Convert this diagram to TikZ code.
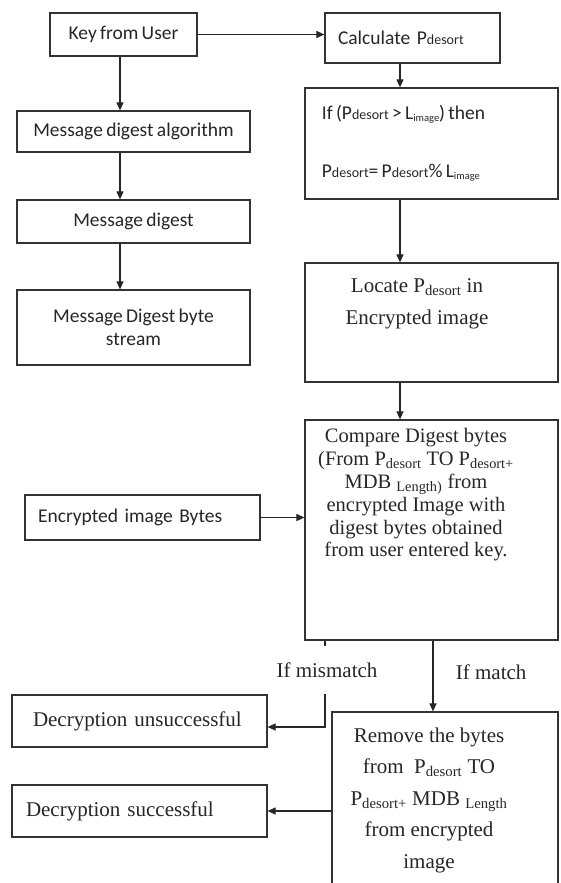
\documentclass[tikz,border=0pt]{standalone}
\usepackage{fontspec}
\setmainfont{Liberation Serif}
\newfontfamily\calibri[WordSpace=0.75]{Carlito}
\usetikzlibrary{arrows.meta,positioning,calc}

\newcommand{\subtxt}[1]{\textsubscript{#1}}
\newcommand{\smtxt}[1]{{\fontsize{14}{14}\selectfont #1}}
\newcommand{\tinysub}[1]{\raisebox{-2pt}{\fontsize{10.5}{10.5}\selectfont #1}}

\begin{document}
\begin{tikzpicture}[
    x=1pt, y=-1pt,
    box/.style={rectangle, draw=black!80, line width=1.2pt, inner sep=0pt, text=black!85},
    sans/.style={font=\calibri\fontsize{19.5}{23}\selectfont, text=black!85},
    serif/.style={font=\fontsize{21}{24}\selectfont, text=black!85},
    >={Triangle[length=8pt,width=7pt]}, line width=1.1pt, draw=black!85
]
    \useasboundingbox (0,0) rectangle (560,883);
    \clip (0,0) rectangle (560,883);

    % left column
    \node[box, sans, minimum width=147, minimum height=43] (key) at (123.5,34.5) {Key from User};
    \node[box, sans, minimum width=233, minimum height=41] (mda) at (133.5,131.5) {Message digest algorithm};
    \node[box, sans, minimum width=233, minimum height=43] (md) at (133.5,221.5) {Message digest};
    \node[box, sans, minimum width=233, minimum height=75, align=center] (mdbs) at (133.5,327.5) {Message Digest byte\\stream};
    \node[box, sans, minimum height=45, text width=209, inner xsep=13, align=left] (eib) at (142.5,517.5) {Encrypted image Bytes};
    \node[box, serif, minimum height=52, text width=213, inner xsep=21, align=left] (unsucc) at (139.5,721) {Decryption unsuccessful};
    \node[box, serif, minimum height=52, text width=227, inner xsep=14, align=left] (succ) at (139.5,811) {Decryption successful};

    % right column
    \node[box, sans, minimum height=50, text width=149, inner xsep=13, align=left] (calc) at (412.5,38) {Calculate P\smtxt{desort}};
    \node[box, minimum width=253, minimum height=111] (ifbox) at (431.5,143.5) {};
    \node[box, minimum width=253, minimum height=119] (locate) at (431.5,322.5) {};
    \node[box, minimum width=253, minimum height=220] (compare) at (431.5,530) {};
    \node[box, minimum width=226, minimum height=188] (remove) at (445,806) {};

    \node[sans, anchor=west, align=left] (iftxt) at (318,143) {If (P\smtxt{desort} > L\tinysub{image}) then\\[35pt]P\smtxt{desort}= P\smtxt{desort}\% L\tinysub{image}};
    \node[serif, align=center, font=\fontsize{21}{32}\selectfont] (locatetxt) at (417,304) {Locate P\subtxt{desort} in\\Encrypted image};
    \node[serif, align=center, font=\fontsize{20.5}{22.8}\selectfont] (comparetxt) at (416,495) {Compare Digest bytes\\(From P\subtxt{desort} TO P\subtxt{desort+}\\MDB \subtxt{Length)} from\\encrypted Image with\\digest bytes obtained\\from user entered key.};
    \node[serif, align=center, font=\fontsize{21}{31.5}\selectfont] (removetxt) at (429,800) {Remove the bytes\\from~~P\subtxt{desort} TO\\P\subtxt{desort+} MDB \subtxt{Length}\\from encrypted\\image};

    % arrow columns
    \coordinate (lcol) at (120,0);
    \coordinate (rcol) at (400,0);
    \coordinate (mcol) at (433,0);
    \coordinate (mmturn) at (325,727);

    \draw[->] (key) -- (key -| calc.west);
    \draw[->] (key.south -| lcol) -- (mda.north -| lcol);
    \draw[->] (mda.south -| lcol) -- (md.north -| lcol);
    \draw[->] (md.south -| lcol) -- (mdbs.north -| lcol);
    \draw[->] (calc.south -| rcol) -- (ifbox.north -| rcol);
    \draw[->] (ifbox.south -| rcol) -- (locate.north -| rcol);
    \draw[->] (locate.south -| rcol) -- (compare.north -| rcol);
    \draw[->] (eib) -- (eib -| compare.west);
    \draw[->] (compare.south -| mmturn) -- (mmturn) -- (mmturn -| unsucc.east);
    \draw[->] (compare.south -| mcol) -- (remove.north -| mcol);
    \draw[->] (remove.west |- succ) -- (succ.east);

    \node[serif, fill=white, minimum height=48, inner xsep=2] (ifmis) at (327,670) {If mismatch};
    \node[serif, anchor=west] (ifmat) at (452,672) {If match};
\end{tikzpicture}
\end{document}
